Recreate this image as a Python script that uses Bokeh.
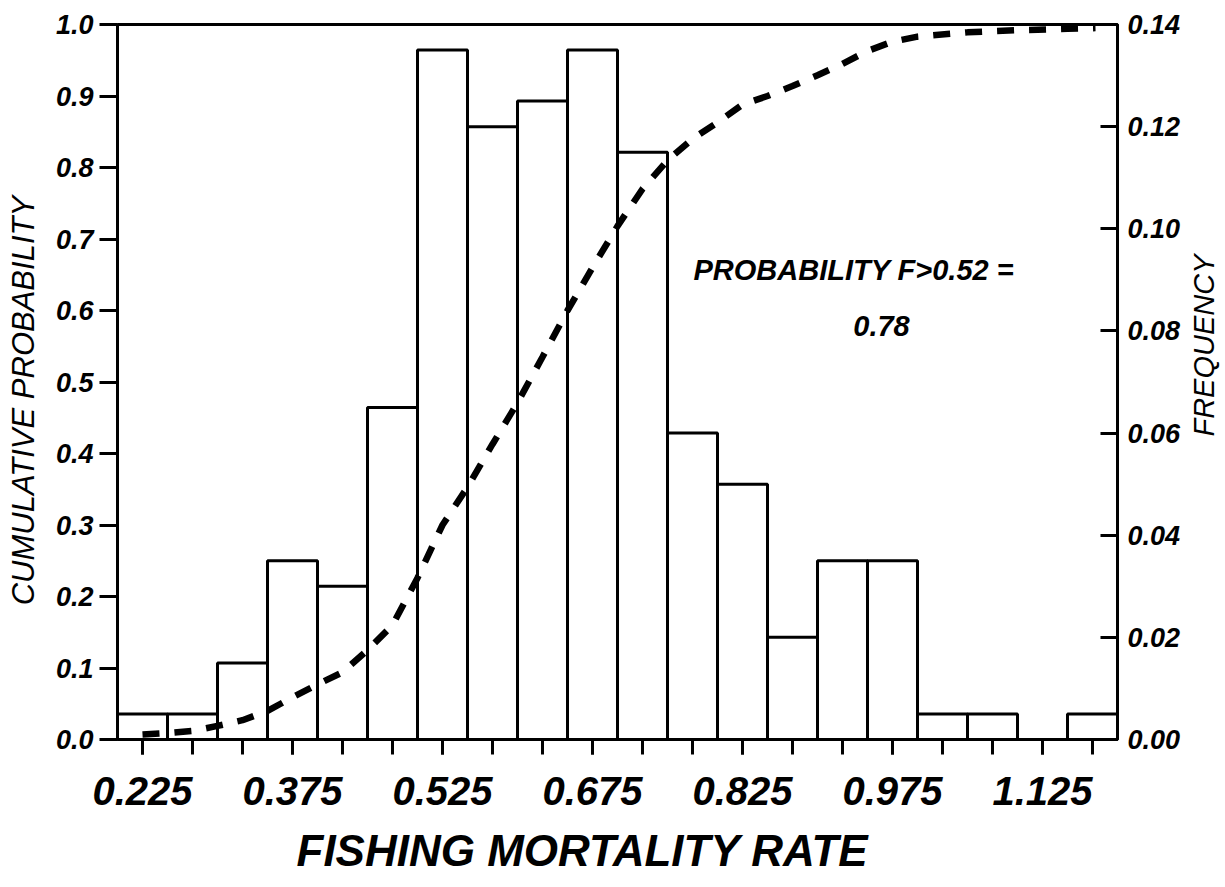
import math
from bokeh.plotting import figure
from bokeh.models import Range1d, LinearAxis, FixedTicker, PrintfTickFormatter, Label
from bokeh.embed import file_html
from bokeh.resources import INLINE

# ---- data ----
bin_centers = [0.225, 0.275, 0.325, 0.375, 0.425, 0.475, 0.525, 0.575, 0.625, 0.675,
               0.725, 0.775, 0.825, 0.875, 0.925, 0.975, 1.025, 1.075, 1.125, 1.175]
frequency = [0.005, 0.005, 0.015, 0.035, 0.030, 0.065, 0.135, 0.120, 0.125, 0.135,
             0.115, 0.060, 0.050, 0.020, 0.035, 0.035, 0.005, 0.005, 0.000, 0.005]

cum_x = [0.225, 0.25, 0.275, 0.30, 0.325, 0.35, 0.375, 0.40, 0.425, 0.45, 0.475, 0.50,
         0.525, 0.55, 0.575, 0.60, 0.625, 0.65, 0.675, 0.70, 0.725, 0.75, 0.775, 0.80,
         0.825, 0.85, 0.875, 0.90, 0.925, 0.95, 0.975, 1.00, 1.05, 1.10, 1.15, 1.178]
cum_prob = [0.007, 0.009, 0.012, 0.019, 0.027, 0.040, 0.059, 0.077, 0.094, 0.125, 0.160, 0.226,
            0.300, 0.353, 0.413, 0.471, 0.535, 0.600, 0.660, 0.718, 0.770, 0.810, 0.840, 0.863,
            0.888, 0.900, 0.914, 0.929, 0.945, 0.963, 0.976, 0.983, 0.989, 0.992, 0.994, 0.995]

x_label_ticks = [0.225, 0.375, 0.525, 0.675, 0.825, 0.975, 1.125]
x_minor_ticks = bin_centers
left_ticks = [0.0, 0.1, 0.2, 0.3, 0.4, 0.5, 0.6, 0.7, 0.8, 0.9, 1.0]
right_ticks = [0.00, 0.02, 0.04, 0.06, 0.08, 0.10, 0.12, 0.14]

x_title = "FISHING MORTALITY RATE"
left_title = "CUMULATIVE PROBABILITY"
right_title = "FREQUENCY"
annot_line1 = "PROBABILITY F>0.52 ="
annot_line2 = "0.78"

FONT = "Liberation Sans"

p = figure(x_range=Range1d(0.2, 1.2), y_range=Range1d(0.0, 1.0),
           frame_width=1000, frame_height=715,
           min_border_left=117, min_border_right=103, min_border_top=24, min_border_bottom=140,
           output_backend="svg", toolbar_location=None,
           background_fill_color="white", border_fill_color="white")
p.extra_y_ranges = {"freq": Range1d(0.0, 0.14)}
p.grid.visible = False
p.outline_line_color = "black"
p.outline_line_width = 3

# bars (frequency, right axis)
p.vbar(x=bin_centers, top=frequency, bottom=0, width=0.05, y_range_name="freq",
       fill_color="white", line_color="black", line_width=3)

# cumulative probability (left axis)
p.line(cum_x, cum_prob, line_color="black", line_width=6.5, line_dash="17 15")

# bottom axis
xa = p.xaxis[0]
xa.ticker = FixedTicker(ticks=x_label_ticks, minor_ticks=x_minor_ticks)
xa.formatter = PrintfTickFormatter(format="%.3f")
xa.axis_line_width = 3
xa.major_tick_in = 0
xa.major_tick_out = 15
xa.minor_tick_in = 0
xa.minor_tick_out = 15
xa.major_tick_line_width = 3
xa.minor_tick_line_width = 3
xa.minor_tick_line_color = "black"
xa.major_label_text_font = FONT
xa.major_label_text_font_size = "40px"
xa.major_label_text_font_style = "bold italic"
xa.major_label_text_color = "black"
xa.major_label_standoff = 22

# left axis
ya = p.yaxis[0]
ya.ticker = FixedTicker(ticks=left_ticks)
ya.formatter = PrintfTickFormatter(format="%.1f")
ya.axis_line_width = 3
ya.major_tick_in = 0
ya.major_tick_out = 18
ya.major_tick_line_width = 3
ya.minor_tick_line_color = None
ya.major_label_text_font = FONT
ya.major_label_text_font_size = "27px"
ya.major_label_text_font_style = "bold italic"
ya.major_label_text_color = "black"
ya.major_label_standoff = 6

# right axis
ra = LinearAxis(y_range_name="freq")
ra.ticker = FixedTicker(ticks=right_ticks)
ra.formatter = PrintfTickFormatter(format="%.2f")
ra.axis_line_width = 3
ra.major_tick_in = 17
ra.major_tick_out = 0
ra.major_tick_line_width = 3
ra.minor_tick_line_color = None
ra.major_label_text_font = FONT
ra.major_label_text_font_size = "27px"
ra.major_label_text_font_style = "bold italic"
ra.major_label_text_color = "black"
ra.major_label_standoff = 10
p.add_layout(ra, "right")

# axis titles, placed in the side panels at the positions
p.add_layout(Label(x=0.665, y=-0.155, text=x_title, text_align="center", text_baseline="middle",
                   text_font=FONT, text_font_size="44px", text_font_style="bold italic",
                   text_color="black"), "below")
p.add_layout(Label(x=0.106, y=0.474, text=left_title, angle=math.pi / 2, text_align="center",
                   text_baseline="middle", text_font=FONT, text_font_size="31px",
                   text_font_style="italic", text_color="black"), "left")
p.add_layout(Label(x=1.286, y=0.551, text=right_title, angle=math.pi / 2, text_align="center",
                   text_baseline="middle", text_font=FONT, text_font_size="29px",
                   text_font_style="italic", text_color="black"), "right")

# annotation
p.add_layout(Label(x=0.776, y=0.657, text=annot_line1, text_align="left", text_baseline="middle",
                   text_font=FONT, text_font_size="29px", text_font_style="bold italic",
                   text_color="black"))
p.add_layout(Label(x=0.964, y=0.579, text=annot_line2, text_align="center", text_baseline="middle",
                   text_font=FONT, text_font_size="29px", text_font_style="bold italic",
                   text_color="black"))

open("out.html", "w").write(file_html(p, INLINE))
